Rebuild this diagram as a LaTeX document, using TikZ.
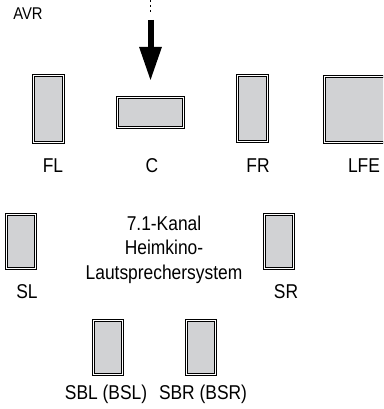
\documentclass[tikz,border=0pt]{standalone}
\usepackage{fontspec}
\setmainfont{Liberation Sans}[FakeStretch=0.87]
\usepackage{xcolor}
\usetikzlibrary{positioning, arrows.meta, calc}

\definecolor{spkgray}{HTML}{D1D2D4}

\begin{document}
\begin{tikzpicture}[%
    x=1pt, y=-1pt,      % pixel grid, y downwards
    spk/.style={draw=black, double=white, double distance=1.2pt,
        line width=0.7pt, fill=spkgray, inner sep=0pt},
    lbl/.style={anchor=base, inner sep=0pt,
        font=\fontsize{20}{24.5}\selectfont},
    feedline/.style={line width=1.6pt, dash pattern=on 2pt off 3pt},
    bigarrow/.style={line width=6pt,
        -{Triangle[width=21pt,length=34pt]}}
]
    \clip (0,0) rectangle (383,409);

    % ==========================================
    % 1. Speakers
    % ==========================================
    \node[spk, minimum width=30.4pt, minimum height=67.4pt] (fl) at (48.5,109) {};
    \node[spk, minimum width=66.4pt, minimum height=30.4pt] (c) at (150.5,112.5) {};
    \node[spk, minimum width=30.4pt, minimum height=66.4pt] (fr) at (252.5,108.5) {};
    \node[spk, minimum width=69.4pt, minimum height=66.4pt] (lfe) at (359,109.5) {};
    \node[spk, minimum width=29.4pt, minimum height=54.4pt] (sl) at (21,241.5) {};
    \node[spk, minimum width=29.4pt, minimum height=54.4pt] (sr) at (279,241.5) {};
    \node[spk, minimum width=29.4pt, minimum height=54.4pt] (sbl) at (108,347.5) {};
    \node[spk, minimum width=29.4pt, minimum height=54.4pt] (sbr) at (201,347.5) {};

    % ==========================================
    % 2. Labels
    % ==========================================
    \node[lbl, font=\fontsize{17}{20}\selectfont] (avr) at (28,20) {AVR};
    \node[lbl] (flLbl) at (53,172) {FL};
    \node[lbl] (cLbl) at (152,172) {C};
    \node[lbl] (frLbl) at (258,172) {FR};
    \node[lbl] (lfeLbl) at (364,172) {LFE};
    \node[lbl] (slLbl) at (27,298) {SL};
    \node[lbl] (srLbl) at (286,298) {SR};
    \node[lbl] (sblLbl) at (106,399) {SBL (BSL)};
    \node[lbl] (sbrLbl) at (203,399) {SBR (BSR)};
    % base = last line here
    \node[lbl, align=center] (title) at (164,279)
        {7.1-Kanal\\Heimkino-\\Lautsprechersystem};

    % ==========================================
    % 3. Signal arrow into C
    % ==========================================
    \coordinate (feed) at (150.5,0);
    \coordinate (arrtop) at (150.5,20);
    \draw[feedline, shorten >=8pt] (feed) -- (arrtop);
    \draw[bigarrow, shorten >=16pt] (arrtop) -- (c.north);

\end{tikzpicture}
\end{document}
